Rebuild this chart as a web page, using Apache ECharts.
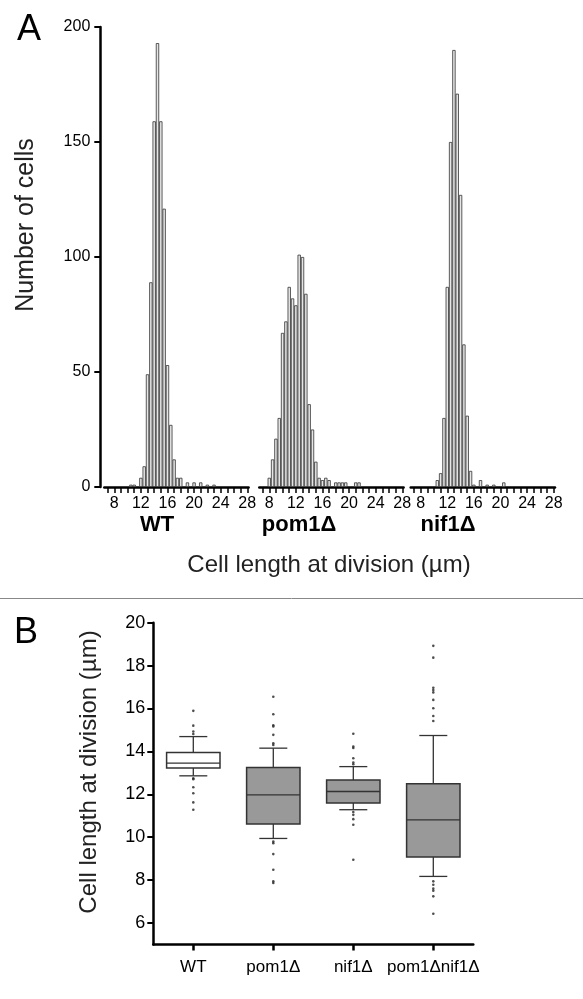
<!DOCTYPE html>
<html><head><meta charset="utf-8">
<script src="https://cdn.jsdelivr.net/npm/echarts@6/dist/echarts.min.js"></script>
<style>html,body{margin:0;padding:0;background:#fff}#c{width:583px;height:999px}</style>
</head><body><div id="c"></div>
<script>
// ---------- Panel A: histogram data (bin centre in µm, number of cells) ----------
const wtX   = [10.5, 11, 12, 12.5, 13, 13.5, 14, 14.5, 15, 15.5, 16, 16.5, 17, 17.5, 18, 19, 20, 21, 22, 23];
const wtY   = [1, 1, 4, 9, 49, 89, 159, 193, 159, 121, 53, 27, 12, 4, 4, 2, 2, 2, 1, 1];
const pomX  = [8, 8.5, 9, 9.5, 10, 10.5, 11, 11.5, 12, 12.5, 13, 13.5, 14, 14.5, 15, 15.5, 16, 16.5, 17, 18, 18.5, 19, 19.5, 21, 21.5];
const pomY  = [4, 12, 21, 30, 67, 72, 87, 82, 79, 101, 100, 84, 36, 25, 11, 4, 3, 4, 3, 2, 2, 2, 2, 2, 2];
const nifX  = [10.5, 11, 11.5, 12, 12.5, 13, 13.5, 14, 14.5, 15, 15.5, 16, 17, 18, 19, 20.5];
const nifY  = [3, 6, 30, 87, 150, 190, 171, 127, 62, 31, 7, 1, 3, 1, 1, 2];
const histNames = ['WT', 'pom1Δ', 'nif1Δ'];
const histTicks = [7,8,9,10,11,12,13,14,15,16,17,18,19,20,21,22,23,24,25,26,27,28];
const histTickLabels = [8, 12, 16, 20, 24, 28];
const countTicks = [0, 50, 100, 150, 200];

// ---------- Panel B: box plot data ----------
const boxCategories = ['WT', 'pom1Δ', 'nif1Δ', 'pom1Δnif1Δ'];
const boxMin = [12.86, 9.94, 11.28, 8.17];
const boxQ1  = [13.22, 10.61, 11.59, 9.07];
const boxMed = [13.45, 11.97, 12.13, 10.81];
const boxQ3  = [13.95, 13.25, 12.67, 12.49];
const boxMax = [14.69, 14.15, 13.29, 14.74];
const outWT   = [15.89, 15.2, 14.93, 14.81, 12.75, 12.7, 12.33, 12.05, 11.62, 11.28];
const outPom  = [16.55, 15.73, 15.22, 15.16, 14.77, 14.38, 14.3, 9.8, 9.72, 9.21, 8.48, 7.94, 7.86];
const outNif  = [14.82, 14.23, 14.16, 13.68, 13.48, 13.4, 11.17, 11.04, 10.84, 10.58, 8.95];
const outDbl  = [18.92, 18.37, 16.97, 16.86, 16.75, 16.4, 16.01, 15.65, 15.42, 7.94, 7.78, 7.6, 7.5, 7.24, 6.43];
const lengthTicks = [6, 8, 10, 12, 14, 16, 18, 20];

const FONT = '"Liberation Sans", Arial, Helvetica, sans-serif';
const chart = echarts.init(document.getElementById('c'), null, {renderer: 'canvas'});

const histLefts = [104.3, 259.3, 410.7];
const histW = 144.3;
const histXs = [wtX, pomX, nifX];
const histYs = [wtY, pomY, nifY];

const grids = histLefts.map(l => ({left: l, top: 27, width: histW, height: 460}));
grids.push({left: 153.3, top: 622.7, width: 320, height: 321.7});

const xAxes = histLefts.map((l, i) => ({
  gridIndex: i, type: 'value', min: 6.5, max: 28.2,
  axisLine: {show: true, onZero: false, lineStyle: {color: '#000', width: 2.5}},
  axisTick: {show: true, length: 6, customValues: histTicks, lineStyle: {color: '#000', width: 1.5}},
  axisLabel: {show: true, customValues: histTickLabels, fontSize: 16, color: '#000', margin: 9, fontFamily: FONT},
  splitLine: {show: false}
}));
xAxes.push({
  gridIndex: 3, type: 'category', data: boxCategories, boundaryGap: true,
  axisLine: {show: true, lineStyle: {color: '#000', width: 2.5}},
  axisTick: {show: true, alignWithLabel: true, length: 6, lineStyle: {color: '#000', width: 2.5}},
  axisLabel: {interval: 0, fontSize: 17, color: '#000', margin: 14, fontFamily: FONT},
  splitLine: {show: false}
});

const yAxes = histLefts.map((l, i) => i === 0 ? ({
  gridIndex: 0, type: 'value', min: 0, max: 200, interval: 50, offset: 4,
  axisLine: {show: true, lineStyle: {color: '#000', width: 2.5}},
  axisTick: {show: true, length: 6, lineStyle: {color: '#000', width: 2}},
  axisLabel: {fontSize: 16, color: '#000', margin: 10, fontFamily: FONT},
  splitLine: {show: false}
}) : ({gridIndex: i, type: 'value', min: 0, max: 200, show: false, splitLine: {show: false}}));
yAxes.push({
  gridIndex: 3, type: 'value', min: 5, max: 20,
  axisLine: {show: true, lineStyle: {color: '#000', width: 2.5}},
  axisTick: {show: true, length: 6, customValues: lengthTicks, lineStyle: {color: '#000', width: 2}},
  axisLabel: {customValues: lengthTicks, fontSize: 18, color: '#000', margin: 8, fontFamily: FONT},
  splitLine: {show: false}
});

const series = histXs.map((xs, i) => ({
  type: 'bar', xAxisIndex: i, yAxisIndex: i, barWidth: 3.3,
  data: xs.map((x, j) => [x, histYs[i][j]]),
  itemStyle: {color: '#e6e6e6', borderColor: '#333', borderWidth: 0.8},
  silent: true
}));

const boxFills = ['#ffffff', '#999999', '#999999', '#999999'];
series.push({
  type: 'custom', xAxisIndex: 3, yAxisIndex: 3,
  data: boxCategories.map((c, i) => [i, boxMin[i], boxQ1[i], boxMed[i], boxQ3[i], boxMax[i]]),
  encode: {x: 0, y: [1, 2, 3, 4, 5]},
  renderItem: function (params, api) {
    const i = api.value(0);
    const pMin = api.coord([i, api.value(1)]);
    const pQ1 = api.coord([i, api.value(2)]);
    const pMed = api.coord([i, api.value(3)]);
    const pQ3 = api.coord([i, api.value(4)]);
    const pMax = api.coord([i, api.value(5)]);
    const x = pMin[0];
    const hb = 26.7, hc = 14;
    const st = {stroke: '#333', lineWidth: 1.3};
    return {type: 'group', children: [
      {type: 'line', shape: {x1: x, y1: pMax[1], x2: x, y2: pQ3[1]}, style: st},
      {type: 'line', shape: {x1: x, y1: pQ1[1], x2: x, y2: pMin[1]}, style: st},
      {type: 'line', shape: {x1: x - hc, y1: pMax[1], x2: x + hc, y2: pMax[1]}, style: st},
      {type: 'line', shape: {x1: x - hc, y1: pMin[1], x2: x + hc, y2: pMin[1]}, style: st},
      {type: 'rect', shape: {x: x - hb, y: pQ3[1], width: 2 * hb, height: pQ1[1] - pQ3[1]},
        style: {fill: boxFills[i], stroke: '#333', lineWidth: 1.5}},
      {type: 'line', shape: {x1: x - hb, y1: pMed[1], x2: x + hb, y2: pMed[1]}, style: st}
    ]};
  }
});
const outs = [outWT, outPom, outNif, outDbl];
series.push({
  type: 'scatter', xAxisIndex: 3, yAxisIndex: 3, symbolSize: 2.6,
  itemStyle: {color: '#222'},
  data: outs.flatMap((arr, i) => arr.map(v => [i, v]))
});

const labelStyle = (txt, size, weight, color) => ({text: txt, fontSize: size, fontWeight: weight || 'normal',
  fontFamily: FONT, fill: color || '#000', align: 'center', verticalAlign: 'middle'});

chart.setOption({
  animation: false,
  backgroundColor: '#fff',
  grid: grids, xAxis: xAxes, yAxis: yAxes, series: series,
  graphic: [
    {type: 'text', left: 17, top: 12, style: {text: 'A', fontSize: 36, fontFamily: FONT, fill: '#000'}},
    {type: 'text', left: 14, top: 615, style: {text: 'B', fontSize: 36, fontFamily: FONT, fill: '#000'}},
    {type: 'line', shape: {x1: 0, y1: 598.5, x2: 583, y2: 598.5}, style: {stroke: '#888', lineWidth: 1}},
    {type: 'text', x: 157, y: 525, style: labelStyle(histNames[0], 22, 'bold')},
    {type: 'text', x: 299, y: 525, style: labelStyle(histNames[1], 22, 'bold')},
    {type: 'text', x: 448, y: 525, style: labelStyle(histNames[2], 22, 'bold')},
    {type: 'text', x: 329, y: 565, style: labelStyle('Cell length at division (µm)', 24, 'normal', '#222')},
    {type: 'text', x: 26, y: 225, rotation: Math.PI / 2, style: labelStyle('Number of cells', 25, 'normal', '#222')},
    {type: 'text', x: 89, y: 772, rotation: Math.PI / 2, style: labelStyle('Cell length at division (µm)', 24, 'normal', '#222')}
  ]
});
</script></body></html>
